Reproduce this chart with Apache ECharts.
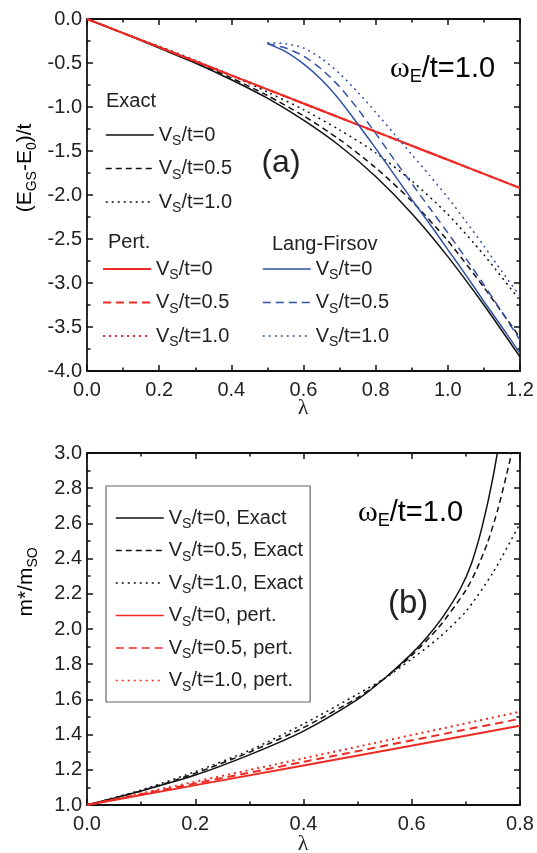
<!DOCTYPE html>
<html><head><meta charset="utf-8">
<script src="https://cdn.jsdelivr.net/npm/echarts@6/dist/echarts.min.js"></script>
<style>html,body{margin:0;padding:0;background:#fff}#c{width:537px;height:853px}</style>
</head><body><div id="c"></div>
<script>
// ---------- Panel (a) data ----------
const lamTop = [0,0.1,0.2,0.3,0.4,0.5,0.6,0.7,0.8,0.9,1.0,1.1,1.2];
const exactV0  = [0,-0.16,-0.33,-0.50,-0.69,-0.90,-1.15,-1.44,-1.79,-2.21,-2.70,-3.25,-3.84];
const exactV05 = [0,-0.16,-0.32,-0.49,-0.67,-0.87,-1.10,-1.37,-1.69,-2.07,-2.52,-3.05,-3.62];
const exactV10 = [0,-0.16,-0.31,-0.47,-0.64,-0.83,-1.03,-1.26,-1.52,-1.84,-2.22,-2.68,-3.20];
const pertV0   = [0,-0.16,-0.32,-0.48,-0.64,-0.80,-0.96,-1.12,-1.28,-1.44,-1.60,-1.76,-1.92];
const pertV05  = [0,-0.16,-0.32,-0.48,-0.64,-0.80,-0.96,-1.12,-1.28,-1.44,-1.60,-1.76,-1.92];
const pertV10  = [0,-0.16,-0.32,-0.48,-0.64,-0.80,-0.96,-1.12,-1.28,-1.44,-1.60,-1.76,-1.92];
const lamLF = [0.5,0.55,0.6,0.65,0.7,0.75,0.8,0.85,0.9,0.95,1.0,1.05,1.1,1.15,1.2];
const lfV0  = [-0.28,-0.37,-0.51,-0.69,-0.92,-1.19,-1.47,-1.76,-2.05,-2.33,-2.62,-2.91,-3.21,-3.50,-3.80];
const lfV05 = [-0.28,-0.33,-0.42,-0.57,-0.77,-1.02,-1.30,-1.59,-1.87,-2.15,-2.43,-2.72,-3.02,-3.33,-3.65];
const lfV10 = [-0.27,-0.28,-0.33,-0.45,-0.62,-0.83,-1.06,-1.30,-1.54,-1.78,-2.03,-2.30,-2.58,-2.87,-3.15];

// ---------- Panel (b) data ----------
const lamExV0  = [0,0.1,0.2,0.3,0.4,0.5,0.55,0.6,0.63,0.66,0.69,0.71,0.73,0.75,0.77];
const mExV0    = [1,1.08,1.17,1.285,1.42,1.60,1.72,1.86,1.96,2.08,2.23,2.37,2.58,2.86,3.22];
const lamExV05 = [0,0.1,0.2,0.3,0.4,0.5,0.55,0.6,0.65,0.7,0.72,0.74,0.76,0.78,0.8];
const mExV05   = [1,1.08,1.18,1.30,1.44,1.61,1.72,1.85,2.01,2.22,2.34,2.49,2.69,2.94,3.22];
const lamExV10 = [0,0.1,0.2,0.3,0.4,0.5,0.55,0.6,0.65,0.7,0.75,0.8];
const mExV10   = [1,1.085,1.19,1.31,1.46,1.63,1.72,1.83,1.95,2.10,2.32,2.60];
const lamPert  = [0,0.4,0.8];
const mPertV0  = [1,1.225,1.45];
const mPertV05 = [1,1.245,1.49];
const mPertV10 = [1,1.265,1.53];

const FONT = 'Liberation Sans';
const BLACK = '#111', RED = '#ee2a24', BLUE = '#3352a6';
const DASH_K = [6,4], DASH_B = [8,5], DOT = [2,4];

function pairs(xs, ys){ return xs.map((x,i)=>[x, ys[i]]); }

const rich = {
  n: {fontFamily: FONT, fontSize: 20, color: '#222', lineHeight: 27},
  s: {fontFamily: FONT, fontSize: 14, color: '#222', lineHeight: 14, verticalAlign: 'bottom'}
};
const richT = {
  n: {fontFamily: FONT, fontSize: 21, color: '#222', lineHeight: 28},
  s: {fontFamily: FONT, fontSize: 14, color: '#222', lineHeight: 14, verticalAlign: 'bottom'}
};

const names = {
  a_ex0:'{n|V}{s|S}{n|/t=0}', a_ex05:'{n|V}{s|S}{n|/t=0.5}', a_ex10:'{n|V}{s|S}{n|/t=1.0}',
  a_pt0:'{n|V}{s|S}{n|/t=0}', a_pt05:'{n|V}{s|S}{n|/t=0.5}', a_pt10:'{n|V}{s|S}{n|/t=1.0}',
  a_lf0:'{n|V}{s|S}{n|/t=0}', a_lf05:'{n|V}{s|S}{n|/t=0.5}', a_lf10:'{n|V}{s|S}{n|/t=1.0}',
  b_ex0:'{n|V}{s|S}{n|/t=0, Exact}', b_ex05:'{n|V}{s|S}{n|/t=0.5, Exact}', b_ex10:'{n|V}{s|S}{n|/t=1.0, Exact}',
  b_pt0:'{n|V}{s|S}{n|/t=0, pert.}', b_pt05:'{n|V}{s|S}{n|/t=0.5, pert.}', b_pt10:'{n|V}{s|S}{n|/t=1.0, pert.}'
};

function line(name, data, color, type, width, xi, yi){
  return {name, type:'line', data, xAxisIndex: xi, yAxisIndex: yi, symbol:'none', smooth: 0.25,
    lineStyle:{color, type, width}, itemStyle:{color}, z: 3, silent: true};
}

const series = [
  line('a_ex0', pairs(lamTop, exactV0), BLACK, 'solid', 1.5, 0, 0),
  line('a_ex05', pairs(lamTop, exactV05), BLACK, DASH_K, 1.5, 0, 0),
  line('a_ex10', pairs(lamTop, exactV10), BLACK, DOT, 1.5, 0, 0),
  line('a_pt10', pairs(lamTop, pertV10), RED, DOT, 2, 0, 0),
  line('a_pt05', pairs(lamTop, pertV05), RED, DASH_B, 2, 0, 0),
  line('a_pt0', pairs(lamTop, pertV0), RED, 'solid', 2, 0, 0),
  line('a_lf0', pairs(lamLF, lfV0), BLUE, 'solid', 1.5, 0, 0),
  line('a_lf05', pairs(lamLF, lfV05), BLUE, DASH_B, 1.5, 0, 0),
  line('a_lf10', pairs(lamLF, lfV10), BLUE, DOT, 1.5, 0, 0),
  line('b_ex0', pairs(lamExV0, mExV0), BLACK, 'solid', 1.5, 2, 2),
  line('b_ex05', pairs(lamExV05, mExV05), BLACK, DASH_K, 1.5, 2, 2),
  line('b_ex10', pairs(lamExV10, mExV10), BLACK, DOT, 1.5, 2, 2),
  line('b_pt0', pairs(lamPert, mPertV0), RED, 'solid', 2, 2, 2),
  line('b_pt05', pairs(lamPert, mPertV05), RED, DASH_B, 2, 2, 2),
  line('b_pt10', pairs(lamPert, mPertV10), RED, DOT, 2, 2, 2)
];

const axLine = {show:true, onZero:false, lineStyle:{color:'#111', width:1.8}};
const tick = {show:true, inside:true, length:6, lineStyle:{color:'#111', width:1.5}};
const minor = {show:true, splitNumber:2, length:3.5, lineStyle:{color:'#111', width:1.5}};
const lab = {color:'#222', fontFamily:FONT, fontSize:20, formatter: v => (+v).toFixed(1)};

function xAx(grid, max, pos, showLab){
  return {type:'value', gridIndex:grid, min:0, max, interval:0.2, position:pos,
    axisLine:axLine, axisTick:tick, minorTick:minor, splitLine:{show:false}, minorSplitLine:{show:false},
    axisLabel: showLab ? Object.assign({margin:9, showMaxLabel:true, showMinLabel:true}, lab) : {show:false}};
}
function yAx(grid, min, max, iv, pos, showLab){
  return {type:'value', gridIndex:grid, min, max, interval:iv, position:pos,
    axisLine:axLine, axisTick:tick, minorTick:minor, splitLine:{show:false}, minorSplitLine:{show:false},
    axisLabel: showLab ? Object.assign({margin:5}, lab) : {show:false}};
}

function legend(id, data, left, top, lw, extra){
  return Object.assign({id, data, left, top, orient:'vertical', itemWidth:48, itemHeight:14, itemGap:10,
    padding:0, formatter: n => names[n], selectedMode:false,
    itemStyle:{opacity:0},
    textStyle:{rich, fontFamily:FONT, fontSize:20, color:'#222'},
    lineStyle:{width: lw}}, extra||{});
}

function omega(x, y){
  return {type:'text', x, y, style:{text:'{w|ω}{s|E}{n|/t=1.0}', align:'left', verticalAlign:'middle',
    rich:{w:{fontFamily:'Liberation Serif', fontSize:30, color:'#222', lineHeight:34},
          s:{fontFamily:FONT, fontSize:18, color:'#222', lineHeight:18, verticalAlign:'bottom'},
          n:{fontFamily:FONT, fontSize:29, color:'#222', lineHeight:34}}}};
}

const option = {
  animation:false,
  backgroundColor:'#fff',
  grid:[{left:87, right:17, top:19, height:352}, {left:87, right:17, top:453, height:352}],
  xAxis:[xAx(0,1.2,'bottom',true), xAx(0,1.2,'top',false), xAx(1,0.8,'bottom',true), xAx(1,0.8,'top',false)],
  yAxis:[yAx(0,-4,0,0.5,'left',true), yAx(0,-4,0,0.5,'right',false), yAx(1,1,3,0.2,'left',true), yAx(1,1,3,0.2,'right',false)],
  legend:[
    legend('lgEx', ['a_ex0','a_ex05','a_ex10'], 105, 125, 1.5),
    legend('lgPt', ['a_pt0','a_pt05','a_pt10'], 102, 259, 2),
    legend('lgLf', ['a_lf0','a_lf05','a_lf10'], 262, 259, 1.5),
    legend('lgB', ['b_ex0','b_ex05','b_ex10','b_pt0','b_pt05','b_pt10'], 106, 486, 1.5,
      {padding:[22,7,8,9], itemGap:9, borderColor:'#666', borderWidth:1.2, backgroundColor:'#fff'})
  ],
  series,
  graphic:[
    {type:'text', left:106, top:91, style:{text:'Exact', font:'20px "Liberation Sans"', fill:'#222'}},
    {type:'text', left:108, top:232, style:{text:'Pert.', font:'20px "Liberation Sans"', fill:'#222'}},
    {type:'text', left:272, top:234, style:{text:'Lang-Firsov', font:'20px "Liberation Sans"', fill:'#222'}},
    {type:'text', x:281, y:163, style:{text:'(a)', font:'32px "Liberation Sans"', fill:'#222', align:'center', verticalAlign:'middle'}},
    {type:'text', x:388, y:604, style:{text:'(b)', font:'33px "Liberation Sans"', fill:'#222', align:'left', verticalAlign:'middle'}},
    omega(390, 69),
    omega(358, 513),
    {type:'text', x:25, y:168, rotation:Math.PI/2, style:{text:'{n|(E}{s|GS}{n|-E}{s|0}{n|)/t}', align:'center', verticalAlign:'middle', rich:richT}},
    {type:'text', x:26, y:582, rotation:Math.PI/2, style:{text:'{n|m*/m}{s|SO}', align:'center', verticalAlign:'middle', rich:richT}},
    {type:'text', x:303, y:408, style:{text:'λ', font:'22px "Liberation Serif"', fill:'#222', align:'center', verticalAlign:'middle'}},
    {type:'text', x:303, y:844, style:{text:'λ', font:'22px "Liberation Serif"', fill:'#222', align:'center', verticalAlign:'middle'}}
  ]
};
const chart = echarts.init(document.getElementById('c'), null, {renderer:'canvas'});
chart.setOption(option);
</script></body></html>
